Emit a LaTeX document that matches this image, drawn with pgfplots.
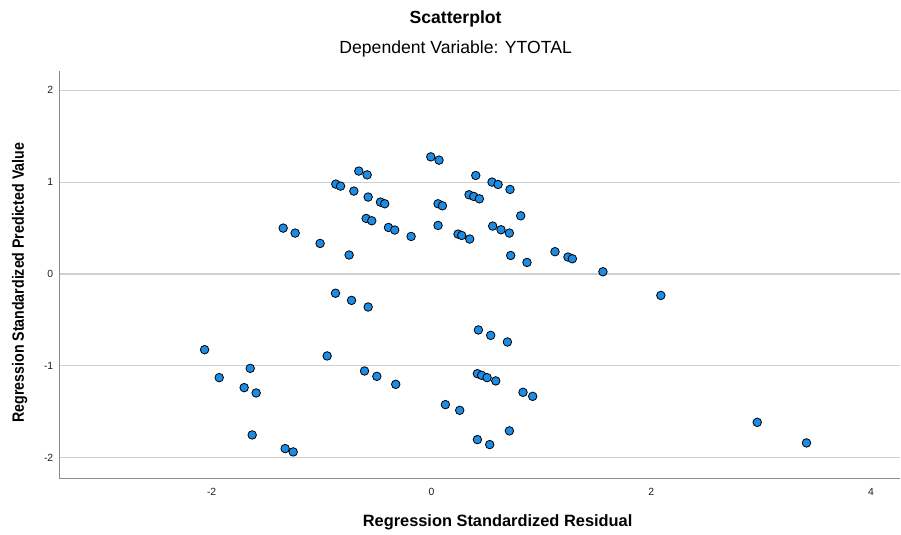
\documentclass[border=0pt]{standalone}
\usepackage{fontspec}
\setmainfont{Liberation Sans}
\usepackage{pgfplots}
\pgfplotsset{compat=1.18}
\definecolor{ptblue}{RGB}{28,140,228}
\definecolor{gridgray}{RGB}{208,208,208}
\definecolor{axgray}{RGB}{140,140,140}
\definecolor{ticktext}{RGB}{30,30,30}
\begin{document}
\begin{tikzpicture}
\begin{axis}[
  at={(0pt,0pt)}, anchor=south west,
  scale only axis,
  width=631.3pt, height=306pt,
  xmin=-3.386, xmax=4.266,
  ymin=-2.224, ymax=2.215,
  xtick={-2,0,2,4}, ytick={-2,-1,0,1,2},
  major tick length=0pt,
  axis x line*=bottom, axis y line*=left,
  axis line style={axgray, line width=1pt, -},
  ymajorgrids, grid style={gridgray, line width=0.9pt},
  tick label style={font=\fontsize{7.8}{9}\selectfont, text=ticktext},
  /pgf/number format/assume math mode=true,
  xticklabel style={yshift=-4pt},
  yticklabel style={xshift=-1pt},
  clip=false,
]
\addplot[only marks, mark=*, mark size=3.2pt,
  mark options={fill=ptblue, draw=black, line width=0.6pt}]
  table {
x y
-1.349 0.500
-1.240 0.446
-1.013 0.333
-0.749 0.207
-0.870 0.979
-0.827 0.957
-0.661 1.121
-0.585 1.080
-0.706 0.903
-0.576 0.838
-0.464 0.783
-0.425 0.765
-0.594 0.605
-0.543 0.580
-0.391 0.507
-0.334 0.479
-0.185 0.409
-0.006 1.276
0.069 1.240
0.060 0.765
0.100 0.743
0.060 0.529
-0.873 -0.209
-0.727 -0.287
-0.576 -0.359
0.403 1.073
0.551 1.001
0.606 0.975
0.715 0.921
0.342 0.863
0.385 0.845
0.436 0.819
0.812 0.634
0.557 0.522
0.633 0.482
0.709 0.446
0.242 0.435
0.275 0.420
0.348 0.381
0.721 0.202
0.869 0.126
1.124 0.243
1.242 0.185
1.282 0.166
1.560 0.025
2.087 -0.233
-2.064 -0.824
-0.949 -0.892
-1.931 -1.128
-1.649 -1.027
-1.704 -1.237
-1.595 -1.295
-1.631 -1.752
-1.331 -1.901
-1.258 -1.937
-0.609 -1.056
-0.497 -1.114
-0.325 -1.201
0.127 -1.422
0.427 -0.609
0.539 -0.668
0.691 -0.740
0.418 -1.085
0.457 -1.103
0.506 -1.128
0.585 -1.164
0.833 -1.288
0.921 -1.332
0.257 -1.484
2.964 -1.615
3.412 -1.839
0.709 -1.708
0.418 -1.803
0.530 -1.857
};
\end{axis}
\node[font=\fontsize{13.2}{15}\selectfont\bfseries] at (297.5pt,344.5pt) {Scatterplot};
\node[font=\fontsize{13.2}{15}\selectfont] at (297.5pt,322.5pt) {Dependent Variable: YTOTAL};
\node[font=\fontsize{12.3}{14}\selectfont\bfseries] at (329pt,-33.2pt) {Regression Standardized Residual};
\node[font=\fontsize{12.3}{14}\selectfont\bfseries, rotate=90] at (-29.8pt,146.8pt) {\scalebox{0.865}[1]{Regression Standardized Predicted Value}};
\path[use as bounding box] (-44.5pt,-39.2pt) rectangle (631.3pt,359pt);
\end{tikzpicture}
\end{document}
